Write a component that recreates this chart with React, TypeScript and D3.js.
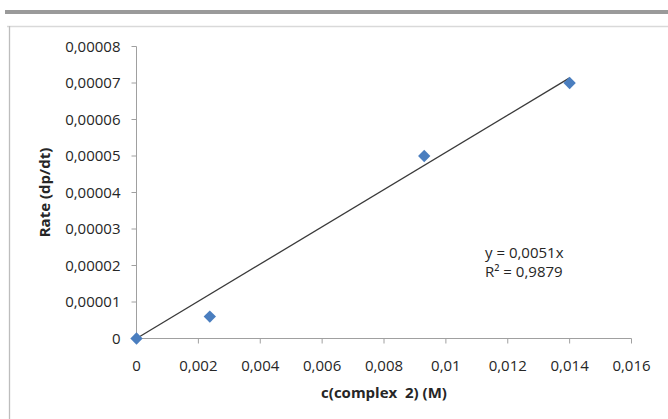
import React from "react";
import * as d3 from "d3";

const xValues = [0, 0.00237, 0.0093, 0.014];
const yValues = [0, 0.000006, 0.00005, 0.00007];
const xTicks = [0, 0.002, 0.004, 0.006, 0.008, 0.01, 0.012, 0.014, 0.016];
const yTicks = [0, 0.00001, 0.00002, 0.00003, 0.00004, 0.00005, 0.00006, 0.00007, 0.00008];
const slope = 0.0051;
const trendEnd = 0.014;
const equationLines = ["y = 0,0051x", "R² = 0,9879"];
const xTitle = "c(complex  2) (M)";
const yTitle = "Rate (dp/dt)";

const W = 668;
const H = 419;
const FONT = "'Open Sans', sans-serif";

const fmt = (v: number) => String(Number(v.toPrecision(6))).replace(".", ",");

export default function App() {
  const x = d3.scaleLinear().domain([0, 0.016]).range([136.5, 631.5]);
  const y = d3.scaleLinear().domain([0, 0.00008]).range([338.5, 46.5]);
  const diamond = d3.symbol().type(d3.symbolSquare).size(76)();
  const line = d3.line<[number, number]>().x((d) => x(d[0])).y((d) => y(d[1]));
  const trend: [number, number][] = [
    [0, 0],
    [trendEnd, slope * trendEnd],
  ];
  const axisColor = "#a0a0a0";
  const textColor = "#262626";
  return (
    <svg
      width={W}
      height={H}
      style={{ position: "absolute", left: 0, top: 0, background: "#fff" }}
      fontFamily={FONT}
    >
      <rect x={5} y={10} width={W - 5} height={4} fill="#9a9a9a" />
      <line x1={7} x2={W} y1={26.5} y2={26.5} stroke="#d9d9d9" strokeWidth={1.5} />
      <line x1={9.5} x2={9.5} y1={26} y2={H} stroke="#bdbdbd" strokeWidth={1.3} />

      {/* y axis */}
      <line x1={x(0)} x2={x(0)} y1={y(0.00008)} y2={y(0)} stroke={axisColor} />
      {yTicks.map((t) => (
        <g key={"y" + t}>
          <line x1={x(0) - 5} x2={x(0)} y1={y(t)} y2={y(t)} stroke={axisColor} />
          <text
            x={x(0) - 16}
            y={y(t)}
            dy="0.36em"
            textAnchor="end"
            fontSize={15}
            fill={textColor}
          >
            {fmt(t)}
          </text>
        </g>
      ))}

      {/* x axis */}
      <line x1={x(0)} x2={x(0.016)} y1={y(0)} y2={y(0)} stroke={axisColor} />
      {xTicks.map((t) => (
        <g key={"x" + t}>
          <line x1={x(t)} x2={x(t)} y1={y(0)} y2={y(0) + 5} stroke={axisColor} />
          <text
            x={x(t)}
            y={y(0) + 32}
            textAnchor="middle"
            fontSize={15}
            fill={textColor}
          >
            {fmt(t)}
          </text>
        </g>
      ))}

      {/* titles */}
      <text
        x={(x(0) + x(0.016)) / 2}
        y={398}
        textAnchor="middle"
        fontSize={15}
        fontWeight="bold"
        fill={textColor}
        style={{ whiteSpace: "pre" }}
      >
        {xTitle}
      </text>
      <text
        transform={`translate(45,${(y(0) + y(0.00008)) / 2}) rotate(-90)`}
        textAnchor="middle"
        dy="0.36em"
        fontSize={15}
        fontWeight="bold"
        fill={textColor}
      >
        {yTitle}
      </text>

      {/* trend line */}
      <path d={line(trend) || ""} fill="none" stroke="#3a3a3a" strokeWidth={1.3} />

      {/* points */}
      {xValues.map((v, i) => (
        <path
          key={"p" + i}
          d={diamond || ""}
          transform={`translate(${x(v)},${y(yValues[i])}) rotate(45)`}
          fill="#4a7ebf"
        />
      ))}

      {/* equation */}
      {equationLines.map((s, i) => (
        <text key={"eq" + i} x={485} y={258 + i * 19} fontSize={15} fill={textColor}>
          {s}
        </text>
      ))}
    </svg>
  );
}
